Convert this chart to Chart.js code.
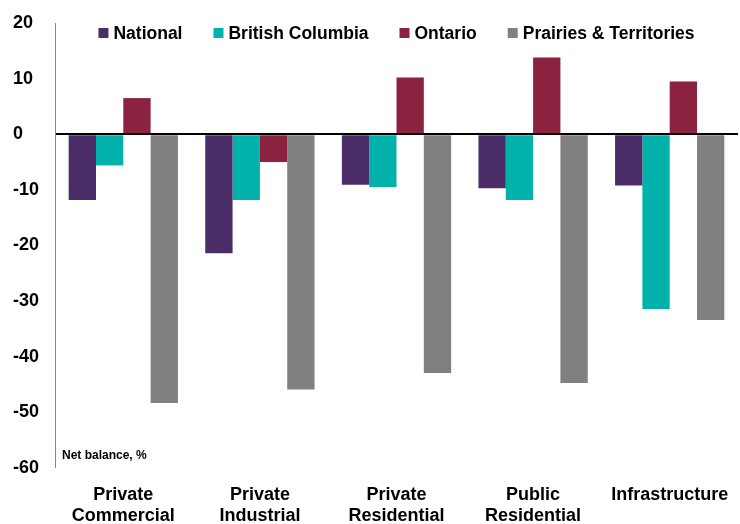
<!DOCTYPE html>
<html>
<head>
<meta charset="utf-8">
<script src="https://cdn.jsdelivr.net/npm/chart.js@4"></script>
<style>
    html, body { margin: 0; padding: 0; background: #fff; }
    #wrap { width: 740px; height: 524px; }
</style>
</head>
<body>
<div id="wrap"><canvas id="balanceChart"></canvas></div>
<script>
    const categories = [
        ['Private', 'Commercial'],
        ['Private', 'Industrial'],
        ['Private', 'Residential'],
        ['Public', 'Residential'],
        'Infrastructure'
    ];
    const national = [-11.8, -21.4, -9.1, -9.7, -9.2];
    const britishColumbia = [-5.6, -11.8, -9.5, -11.8, -31.4];
    const ontario = [6.5, -5.0, 10.2, 13.8, 9.5];
    const prairies = [-48.3, -45.9, -42.9, -44.7, -33.4];
    const yTicks = [20, 10, 0, -10, -20, -30, -40, -50, -60];

    const font = 'Arial, "Liberation Sans", sans-serif';

    // legend row drawn over the top of the plot, plus the unit caption
    const overlay = {
        id: 'overlay',
        afterDraw(chart) {
            const ctx = chart.ctx;
            const area = chart.chartArea;
            ctx.save();
            ctx.fillStyle = '#000';
            ctx.textBaseline = 'middle';

            ctx.font = 'bold 17.5px ' + font;
            const items = chart.data.datasets.map(ds => ({
                label: ds.label,
                color: ds.backgroundColor,
                w: 10 + 5 + ctx.measureText(ds.label).width
            }));
            const gap = 31;
            const total = items.reduce((s, it) => s + it.w, 0) + gap * (items.length - 1);
            let x = (area.left + area.right) / 2 - total / 2;
            const y = area.top + 10;
            items.forEach(it => {
                ctx.fillStyle = it.color;
                ctx.fillRect(x, y - 5, 10, 10);
                ctx.fillStyle = '#000';
                ctx.fillText(it.label, x + 15, y + 1);
                x += it.w + gap;
            });

            ctx.font = 'bold 12px ' + font;
            ctx.fillText('Net balance, %', area.left + 7, area.bottom - 12);
            ctx.restore();
        }
    };

    const balanceChart = new Chart(document.getElementById('balanceChart'), {
        type: 'bar',
        data: {
            labels: categories,
            datasets: [
                { label: 'National', data: national, backgroundColor: '#4B2D67' },
                { label: 'British Columbia', data: britishColumbia, backgroundColor: '#00B2A9' },
                { label: 'Ontario', data: ontario, backgroundColor: '#8B2240' },
                { label: 'Prairies & Territories', data: prairies, backgroundColor: '#808080' }
            ]
        },
        options: {
            responsive: true,
            maintainAspectRatio: false,
            animation: false,
            layout: { padding: { top: 23, right: 2, left: 13, bottom: 0 } },
            datasets: {
                bar: { categoryPercentage: 0.8, barPercentage: 1.0 }
            },
            scales: {
                x: {
                    grid: { display: false },
                    border: { display: false },
                    ticks: {
                        color: '#000',
                        font: { family: font, size: 18, weight: 'bold' },
                        padding: 8,
                        maxRotation: 0
                    },
                    afterFit: (axis) => { axis.height = 56; }
                },
                y: {
                    min: -60,
                    max: 20,
                    afterBuildTicks: (axis) => { axis.ticks = yTicks.map(v => ({ value: v })); },
                    grid: {
                        drawTicks: false,
                        color: (c) => c.tick && c.tick.value === 0 ? '#000' : 'rgba(0,0,0,0)',
                        lineWidth: (c) => c.tick && c.tick.value === 0 ? 2 : 0
                    },
                    border: { display: true, color: '#888', width: 1 },
                    ticks: {
                        color: '#000',
                        crossAlign: 'far',
                        padding: 4,
                        font: { family: font, size: 18, weight: 'bold' }
                    },
                    afterFit: (axis) => { axis.width = 42; }
                }
            },
            plugins: {
                legend: { display: false },
                tooltip: { enabled: false }
            }
        },
        plugins: [overlay]
    });
</script>
</body>
</html>
